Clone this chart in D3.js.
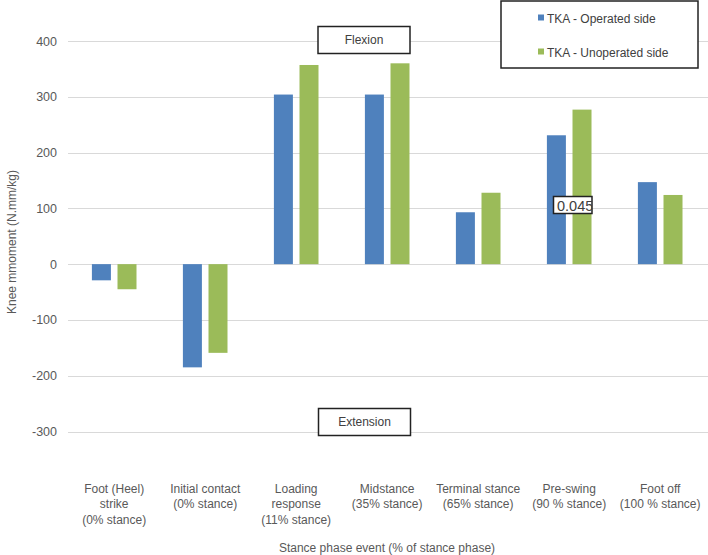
<!DOCTYPE html>
<html><head><meta charset="utf-8">
<script src="https://cdn.jsdelivr.net/npm/d3@7"></script>
<style>body{margin:0;background:#fff}svg{display:block}text{font-family:"Liberation Sans",Arial,sans-serif}</style>
</head><body>
<svg id="c" width="708" height="555"></svg>
<script>
const categories = [
  ["Foot (Heel)","strike","(0% stance)"],
  ["Initial contact","(0% stance)"],
  ["Loading","response","(11% stance)"],
  ["Midstance","(35% stance)"],
  ["Terminal stance","(65% stance)"],
  ["Pre-swing","(90 % stance)"],
  ["Foot off","(100 % stance)"]
];
const seriesNames = ["TKA - Operated side","TKA - Unoperated side"];
const operated = [-29, -185, 304, 304, 93, 231, 147];
const unoperated = [-45, -159, 357, 360, 128, 277, 124];
const yTicks = [-300,-200,-100,0,100,200,300,400];
const colors = ["#4F81BD","#9BBB59"];

const svg = d3.select("#c");
const ids = categories.map((c,i)=>i);
const x0 = d3.scaleBand().domain(ids).range([68.7,705.7]).padding(0);
const x1 = d3.scaleBand().domain([0,1]).range([0,x0.bandwidth()]).paddingInner(0.258).paddingOuter(0.906);
const y = d3.scaleLinear().domain([-300,400]).range([431.5,41]);

// gridlines
svg.append("g").selectAll("line").data(yTicks).join("line")
  .attr("x1",68).attr("x2",708).attr("y1",d=>Math.round(y(d))+0.5).attr("y2",d=>Math.round(y(d))+0.5)
  .attr("stroke","#d9d9d9").attr("stroke-width",1);

// y tick labels
svg.append("g").selectAll("text").data(yTicks).join("text")
  .attr("x",57).attr("y",d=>y(d)+4.5).attr("text-anchor","end")
  .attr("font-size",12.5).attr("fill","#595959").text(d=>d);

// bars
const data = [operated, unoperated];
data.forEach((vals,s)=>{
  svg.append("g").selectAll("rect").data(vals).join("rect")
    .attr("x",(d,i)=>x0(i)+x1(s)).attr("width",x1.bandwidth())
    .attr("y",d=>y(Math.max(0,d))).attr("height",d=>Math.abs(y(d)-y(0)))
    .attr("fill",colors[s]);
});

// x labels
const xl = svg.append("g");
categories.forEach((lines,i)=>{
  const t = xl.append("text").attr("text-anchor","middle").attr("font-size",12).attr("fill","#595959");
  lines.forEach((l,j)=>t.append("tspan").attr("x",x0(i)+x0.bandwidth()/2).attr("y",492.5+j*15.5).text(l));
});

// axis titles
svg.append("text").attr("x",387).attr("y",552).attr("text-anchor","middle").attr("font-size",12).attr("fill","#595959")
  .text("Stance phase event (% of stance phase)");
svg.append("text").attr("transform","translate(16,242) rotate(-90)").attr("text-anchor","middle").attr("font-size",12).attr("fill","#595959")
  .text("Knee mmoment (N.mm/kg)");

// annotation boxes
function box(x,yy,w,h,txt,fs,anchor,tx){
  svg.append("rect").attr("x",x).attr("y",yy).attr("width",w).attr("height",h).attr("fill","#fff").attr("stroke","#222").attr("stroke-width",1.5);
  svg.append("text").attr("x",tx).attr("y",yy+h/2+fs*0.36).attr("text-anchor",anchor).attr("font-size",fs).attr("fill","#404040").text(txt);
}
box(318,26.5,92,27,"Flexion",12,"middle",364);
box(318.5,408.5,92,27,"Extension",12,"middle",364.5);

// 0.045 box (clipped text)
const cp = svg.append("clipPath").attr("id","cl").append("rect").attr("x",553.5).attr("y",196).attr("width",38.5).attr("height",18);
svg.append("rect").attr("x",553.5).attr("y",196.5).attr("width",38.5).attr("height",17).attr("fill","#fff").attr("stroke","#222").attr("stroke-width",1.5);
svg.append("text").attr("x",557).attr("y",210.5).attr("font-size",14.5).attr("fill","#404040").attr("clip-path","url(#cl)").text("0.045");

// legend
svg.append("rect").attr("x",501).attr("y",1).attr("width",197).attr("height",67).attr("fill","#fff").attr("stroke","#222").attr("stroke-width",1.5);
seriesNames.forEach((n,i)=>{
  const cy = [18.5,52.5][i];
  svg.append("rect").attr("x",538).attr("y",cy-4).attr("width",6).attr("height",6).attr("fill",colors[i]);
  svg.append("text").attr("x",547).attr("y",cy+4).attr("font-size",12).attr("fill","#404040").text(n);
});
</script>
</body></html>
